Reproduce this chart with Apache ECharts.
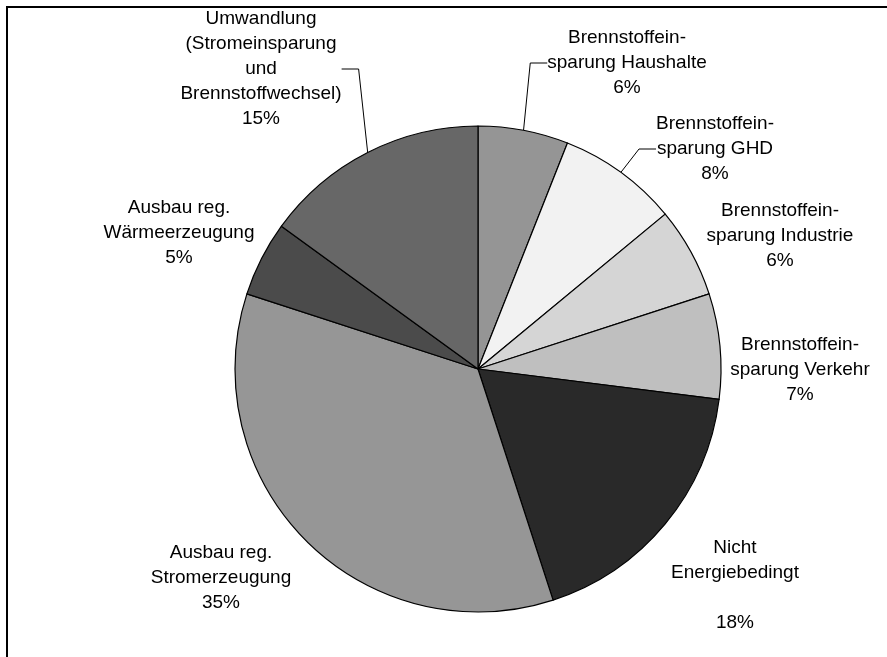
<!DOCTYPE html>
<html>
<head>
<meta charset="utf-8">
<title>Anteile</title>
<script src="https://cdn.jsdelivr.net/npm/echarts@6/dist/echarts.min.js"></script>
<style>
  html, body { margin: 0; padding: 0; background: #ffffff; }
  #chart { width: 887px; height: 657px; }
</style>
</head>
<body>
<div id="chart"></div>
<script>
// Slice names, clockwise from 12 o'clock
const categories = [
  'Brennstoffein-\nsparung Haushalte',
  'Brennstoffein-\nsparung GHD',
  'Brennstoffein-\nsparung Industrie',
  'Brennstoffein-\nsparung Verkehr',
  'Nicht\nEnergiebedingt\n',
  'Ausbau reg.\nStromerzeugung',
  'Ausbau reg.\nWärmeerzeugung',
  'Umwandlung\n(Stromeinsparung\nund\nBrennstoffwechsel)'
];
// Shares in percent
const shares = [6, 8, 6, 7, 18, 35, 5, 15];

// Presentation
const sliceColors = ['#959595', '#f2f2f2', '#d5d5d5', '#bfbfbf', '#292929', '#969696', '#4b4b4b', '#676767'];
const withLeader = [true, true, false, false, false, false, false, true];
const labelCenters = [[627, 63], [715, 149], [780, 236], [800, 370], [735, 585], [221, 578], [179, 233], [261, 69]];

const chart = echarts.init(document.getElementById('chart'), null, { renderer: 'canvas' });

chart.setOption({
  backgroundColor: '#ffffff',
  animation: false,
  graphic: [{
    type: 'polyline',
    shape: { points: [[7, 660], [7, 7], [890, 7]] },
    style: { stroke: '#000000', lineWidth: 2, fill: null },
    silent: true
  }],
  series: [{
    type: 'pie',
    center: [478, 369],
    radius: 243,
    startAngle: 90,
    clockwise: true,
    avoidLabelOverlap: false,
    left: 0, top: 0, right: 0, bottom: 0,
    itemStyle: { borderColor: '#000000', borderWidth: 1.2 },
    emphasis: { disabled: true },
    label: {
      show: true,
      position: 'outside',
      overflow: 'none',
      color: '#000000',
      fontFamily: '"Liberation Sans", Arial, sans-serif',
      fontSize: 19,
      lineHeight: 25,
      align: 'center',
      formatter: p => p.name + '\n' + p.value + '%'
    },
    labelLine: {
      show: true,
      length: 10,
      length2: 17,
      smooth: false,
      lineStyle: { color: '#000000', width: 1 }
    },
    labelLayout: p => ({
      x: labelCenters[p.dataIndex][0],
      y: labelCenters[p.dataIndex][1],
      align: 'center',
      verticalAlign: 'middle'
    }),
    data: categories.map((name, i) => ({
      name: name,
      value: shares[i],
      itemStyle: { color: sliceColors[i] },
      labelLine: { show: withLeader[i] }
    }))
  }]
});
</script>
</body>
</html>
